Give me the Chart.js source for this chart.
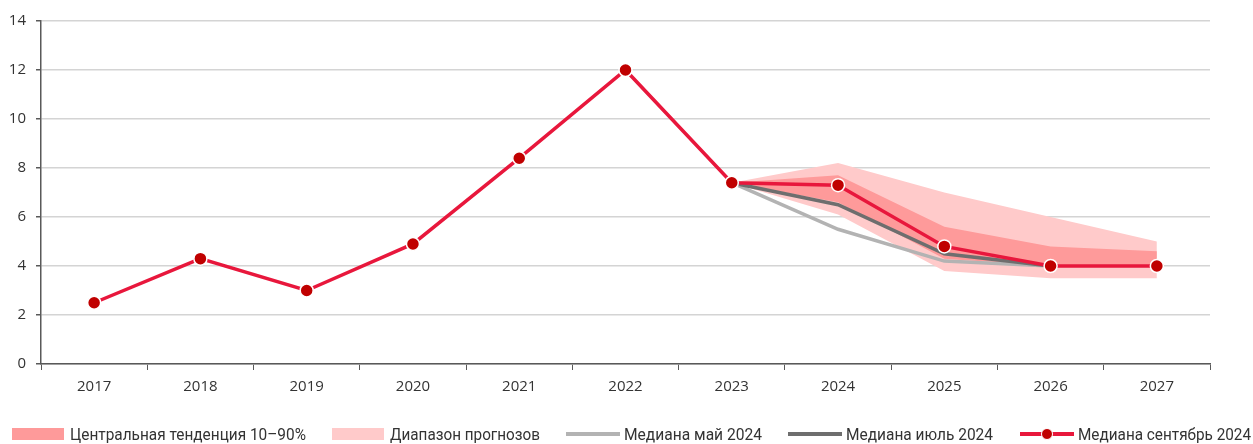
<!DOCTYPE html>
<html lang="ru">
<head>
<meta charset="utf-8">
<script src="https://cdn.jsdelivr.net/npm/chart.js@4.4.1/dist/chart.umd.min.js"></script>
<style>
  html, body { margin: 0; padding: 0; background: #fff; }
  #wrap { position: relative; width: 1253px; height: 444px; }
  #chart { position: absolute; left: 0; top: 0; }
  .lg { position: absolute; top: 424px; height: 20px; display: flex; align-items: center;
        font-family: Roboto, "Noto Sans", sans-serif; font-size: 16px; color: #333; white-space: nowrap; }
  .lg .box { width: 52px; height: 12px; margin-right: 6px; }
  .lg .ln { position: relative; width: 54px; height: 4px; margin-right: 4px; }
  .lg .dot { position: absolute; left: 21px; top: -4px; width: 12px; height: 12px; border-radius: 50%;
             background: #c00000; box-sizing: border-box; border: 1.5px solid #fff; }
  .lg span { display: inline-block; transform-origin: left center; }
</style>
</head>
<body>
<div id="wrap">
  <canvas id="chart" width="1253" height="444"></canvas>
  <div class="lg" style="left:12px"><div class="box" style="background:#fe9a9a"></div><span data-w="236">Центральная тенденция 10–90%</span></div>
  <div class="lg" style="left:332px"><div class="box" style="background:#ffcaca"></div><span data-w="150">Диапазон прогнозов</span></div>
  <div class="lg" style="left:566px"><div class="ln" style="background:#b3b3b3"></div><span data-w="138">Медиана май 2024</span></div>
  <div class="lg" style="left:788px"><div class="ln" style="background:#6e6e6e"></div><span data-w="147">Медиана июль 2024</span></div>
  <div class="lg" style="left:1020px"><div class="ln" style="background:#e8173c"><div class="dot"></div></div><span data-w="173">Медиана сентябрь 2024</span></div>
</div>
<script>
/* ── Data ── */
const years = ["2017", "2018", "2019", "2020", "2021", "2022", "2023", "2024", "2025", "2026", "2027"];

const medianSep = [2.5, 4.3, 3.0, 4.9, 8.4, 12.0, 7.4, 7.3, 4.8, 4.0, 4.0];
const medianJul = [null, null, null, null, null, null, 7.4, 6.5, 4.5, 4.0, null];
const medianMay = [null, null, null, null, null, null, 7.4, 5.5, 4.2, 4.0, null];

// central tendency 10–90%
const centralLow  = [null, null, null, null, null, null, 7.4, 6.6, 4.3, 4.0, 4.0];
const centralHigh = [null, null, null, null, null, null, 7.4, 7.7, 5.6, 4.8, 4.6];
// full range of forecasts
const rangeLow  = [null, null, null, null, null, null, 7.4, 6.1, 3.8, 3.5, 3.5];
const rangeHigh = [null, null, null, null, null, null, 7.4, 8.2, 7.0, 6.0, 5.0];

const yTicks = [0, 2, 4, 6, 8, 10, 12, 14];

/* ── Fit legend labels to width ── */
document.querySelectorAll(".lg span").forEach(s => {
  const w = +s.dataset.w;
  const k = w / s.getBoundingClientRect().width;
  s.style.transform = "scaleX(" + k.toFixed(3) + ")";
});

const tickFont = { family: "'Open Sans', 'Noto Sans', sans-serif", size: 15 };
const axisColor = "#595959";

function band(data, order, color, fillTarget) {
  return {
    data, order,
    borderWidth: 0, borderColor: "rgba(0,0,0,0)",
    backgroundColor: color,
    pointRadius: 0, pointHoverRadius: 0,
    fill: fillTarget === undefined ? false : { target: fillTarget },
    tension: 0
  };
}

new Chart(document.getElementById("chart"), {
  type: "line",
  data: {
    labels: years,
    datasets: [
      { // 0
        label: "Медиана сентябрь 2024", data: medianSep, order: 0,
        borderColor: "#e8173c", borderWidth: 3.5,
        pointRadius: 6.5, pointBackgroundColor: "#c00000",
        pointBorderColor: "#ffffff", pointBorderWidth: 1.5,
        fill: false, tension: 0
      },
      { // 1
        label: "Медиана июль 2024", data: medianJul, order: 1,
        borderColor: "#6e6e6e", borderWidth: 3.5, pointRadius: 0, fill: false
      },
      { // 2
        label: "Медиана май 2024", data: medianMay, order: 2,
        borderColor: "#b3b3b3", borderWidth: 3.5, pointRadius: 0, fill: false
      },
      band(centralLow, 3, "#fe9a9a"),        // 3
      band(centralHigh, 3, "#fe9a9a", 3),    // 4
      band(rangeLow, 5, "#ffcaca"),          // 5
      band(rangeHigh, 5, "#ffcaca", 5)       // 6
    ]
  },
  options: {
    responsive: false,
    animation: false,
    layout: { padding: { top: 21, right: 43, left: 0, bottom: 0 } },
    plugins: { legend: { display: false }, tooltip: { enabled: false } },
    scales: {
      x: {
        offset: true,
        grid: { offset: true, drawOnChartArea: false, tickLength: 6, tickColor: axisColor, lineWidth: 1 },
        border: { color: axisColor, width: 1.5 },
        ticks: { color: "#333", font: tickFont, padding: 8, maxRotation: 0 },
        afterFit: s => { s.height = 80; }
      },
      y: {
        min: 0, max: 14,
        afterBuildTicks: s => { s.ticks = yTicks.map(v => ({ value: v })); },
        grid: { color: "#d4d4d4", lineWidth: 1.5, tickLength: 5, tickColor: axisColor },
        border: { color: axisColor, width: 1.5 },
        ticks: { color: "#333", font: tickFont, padding: 10 },
        afterFit: s => { s.width = 41; }
      }
    }
  }
});
</script>
</body>
</html>
